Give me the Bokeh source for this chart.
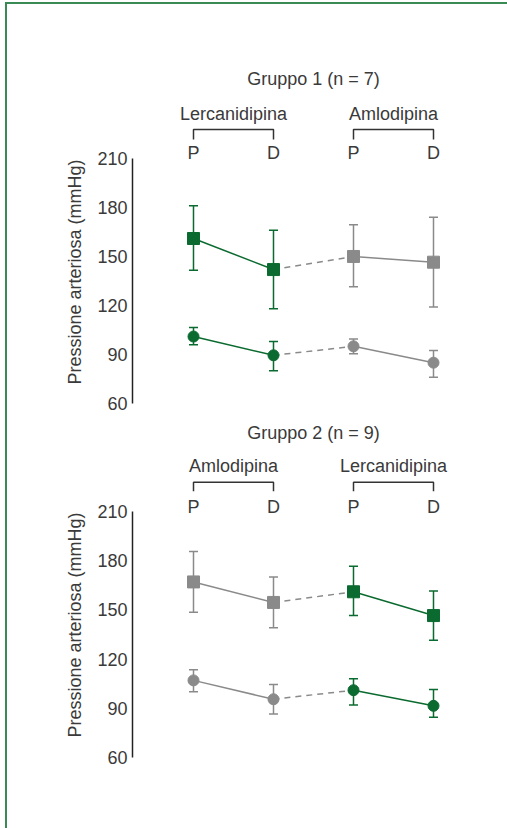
from bokeh.plotting import figure
from bokeh.layouts import column
from bokeh.models import ColumnDataSource, Whisker, TeeHead, FixedTicker, Range1d
from bokeh.core.properties import value
from bokeh.embed import file_html
from bokeh.resources import INLINE

# ---------------- data ----------------
phases = ["P", "D", "P", "D"]

g1_title = "Gruppo 1 (n = 7)"
g1_treatments = ["Lercanidipina", "Amlodipina"]
g1_sys = [161, 142, 150, 146.5]
g1_sys_hi = [181, 166, 169.5, 174]
g1_sys_lo = [141.5, 118, 131.5, 119]
g1_dia = [101, 89.5, 95, 85]
g1_dia_hi = [106.5, 98, 99.5, 92.5]
g1_dia_lo = [96, 80, 90.5, 76]

g2_title = "Gruppo 2 (n = 9)"
g2_treatments = ["Amlodipina", "Lercanidipina"]
g2_sys = [167, 154.5, 161, 146.5]
g2_sys_hi = [185.5, 170, 176.5, 161.5]
g2_sys_lo = [148.5, 139, 146.5, 131.5]
g2_dia = [107, 95.5, 101, 91.5]
g2_dia_hi = [113.5, 104.5, 108, 101.5]
g2_dia_lo = [100, 86.5, 92, 84.5]

y_ticks = [60, 90, 120, 150, 180, 210]
y_label = "Pressione arteriosa (mmHg)"

# ---------------- style ----------------
GREEN = "#0b6a2f"
GRAY = "#8a8a8a"
TXT = "#3a3a3a"
FONT = "Liberation Sans"
FS = "18px"
XPOS = [0, 1, 2, 3]
X_RANGE = (-0.7625, 3.8375)


def base_fig(height, y_range, bottom=0):
    p = figure(width=500, height=height, output_backend="svg", toolbar_location=None,
               x_range=Range1d(*X_RANGE), y_range=y_range,
               min_border_left=125, min_border_right=7, min_border_top=0,
               min_border_bottom=bottom)
    p.outline_line_color = None
    p.grid.visible = False
    p.xaxis.visible = False
    return p


def header(title, treatments, height, rows):
    # y in pixels from the top of this strip
    p = base_fig(height, Range1d(height, 0))
    p.yaxis.visible = False
    y_title, y_treat, y_br, y_br_low = rows
    p.text(x=[1.5], y=[y_title], text=[title], text_font=value(FONT), text_font_size=FS,
           text_color=TXT, text_align="center", text_baseline="middle")
    p.text(x=[0.5, 2.5], y=[y_treat, y_treat], text=treatments, text_font=value(FONT),
           text_font_size=FS, text_color=TXT, text_align="center", text_baseline="middle")
    for k in range(2):
        x0, x1 = XPOS[2 * k], XPOS[2 * k + 1]
        p.line([x0, x0, x1, x1], [y_br_low, y_br, y_br, y_br_low],
               line_color="#333333", line_width=1.5)
    return p


def chart(colors, sys, sys_hi, sys_lo, dia, dia_hi, dia_lo, height, y_end, bottom, y_pd):
    p = base_fig(height, Range1d(60, y_end), bottom)
    ax = p.yaxis[0]
    ax.ticker = FixedTicker(ticks=y_ticks)
    ax.bounds = (60, 210)
    ax.major_tick_line_color = None
    ax.major_tick_out = 0
    ax.major_tick_in = 0
    ax.minor_tick_line_color = None
    ax.axis_line_color = "#222222"
    ax.axis_line_width = 1.5
    ax.major_label_text_font = FONT
    ax.major_label_text_font_size = FS
    ax.major_label_text_color = TXT
    ax.major_label_standoff = 5
    ax.axis_label = y_label
    ax.axis_label_text_font = FONT
    ax.axis_label_text_font_size = FS
    ax.axis_label_text_font_style = "normal"
    ax.axis_label_text_color = TXT
    ax.axis_label_standoff = 9

    for series, hi, lo, marker, msize in ((sys, sys_hi, sys_lo, "square", 12),
                                          (dia, dia_hi, dia_lo, "circle", 11)):
        p.line(XPOS[1:3], series[1:3], line_color=GRAY, line_width=1.5, line_dash="6 5")
        for k in range(2):
            idx = slice(2 * k, 2 * k + 2)
            c = colors[k]
            src = ColumnDataSource(dict(x=XPOS[idx], y=series[idx], hi=hi[idx], lo=lo[idx]))
            p.add_layout(Whisker(base="x", upper="hi", lower="lo", source=src,
                                 line_color=c, line_width=1.5,
                                 upper_head=TeeHead(size=9, line_color=c, line_width=1.5),
                                 lower_head=TeeHead(size=9, line_color=c, line_width=1.5)))
            p.line("x", "y", source=src, line_color=c, line_width=1.5)
            p.scatter("x", "y", source=src, marker=marker, size=msize,
                      fill_color=c, line_color=c)

    p.text(x=XPOS, y=[y_pd] * 4, text=phases, text_font=value(FONT), text_font_size=FS,
           text_color=TXT, text_align="center", text_baseline="middle")
    return p


h1 = header(g1_title, g1_treatments, height=136, rows=(74, 109, 125, 135))
c1 = chart([GREEN, GRAY], g1_sys, g1_sys_hi, g1_sys_lo, g1_dia, g1_dia_hi, g1_dia_lo,
           height=274, y_end=221.0, bottom=11, y_pd=213.1)
h2 = header(g2_title, g2_treatments, height=78, rows=(18, 51, 67.7, 76.7))
c2 = chart([GRAY, GREEN], g2_sys, g2_sys_hi, g2_sys_lo, g2_dia, g2_dia_hi, g2_dia_lo,
           height=336, y_end=221.5, bottom=71, y_pd=212.4)

layout = column(h1, c1, h2, c2, margin=(2, 0, 0, 5), spacing=0,
                styles={"border-left": "2px solid #3a8a56", "border-top": "2px solid #3a8a56"})

open("out.html", "w").write(file_html(layout, INLINE))
